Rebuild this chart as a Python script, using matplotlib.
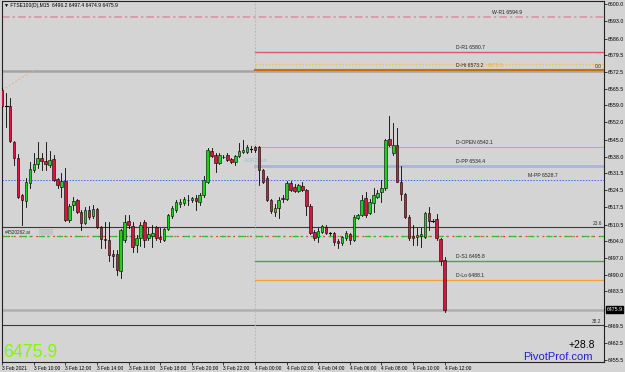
import matplotlib.pyplot as plt
import matplotlib.transforms as mtransforms
from matplotlib.patches import Rectangle

# M15 bars, 3 Feb 08:00 -> 4 Feb 12:00
opens = [6565.1, 6558.5, 6558.6, 6544.1, 6537.6, 6522.5, 6520.1, 6527.4, 6532.6, 6535.1,
         6537.5, 6536.3, 6534.7, 6537.1, 6529.0, 6525.7, 6528.2, 6512.3, 6518.4, 6520.5,
         6515.6, 6511.1, 6516.4, 6514.0, 6516.8, 6509.5, 6504.6, 6504.2, 6498.5, 6498.5,
         6491.7, 6504.2, 6511.9, 6509.9, 6502.2, 6505.0, 6511.5, 6505.0, 6505.9, 6509.5,
         6505.4, 6504.2, 6508.7, 6514.0, 6516.4, 6518.8, 6519.2, 6520.5, 6520.5, 6521.3,
         6519.7, 6522.5, 6527.8, 6540.3, 6538.7, 6535.5, 6537.9, 6538.7, 6537.1, 6535.9,
         6538.3, 6539.9, 6539.9, 6541.2, 6542.0, 6542.1, 6532.6, 6529.4, 6520.5, 6515.7,
         6517.3, 6521.3, 6520.9, 6527.4, 6525.7, 6524.2, 6526.1, 6524.5, 6518.1, 6507.5,
         6505.6, 6507.7, 6509.6, 6506.9, 6507.1, 6503.8, 6503.0, 6505.0, 6506.5, 6504.2,
         6513.1, 6514.4, 6521.5, 6515.3, 6519.1, 6521.8, 6523.6, 6525.3, 6545.1, 6539.4,
         6542.8, 6527.9, 6522.8, 6513.7, 6506.0, 6505.4, 6505.9, 6505.6, 6515.1, 6512.1,
         6512.7, 6504.6, 6496.2]
highs = [6565.9, 6563.8, 6561.9, 6544.4, 6539.1, 6522.9, 6529.4, 6535.9, 6539.5, 6544.0,
         6539.5, 6544.0, 6540.3, 6538.7, 6529.4, 6531.4, 6533.4, 6518.8, 6521.7, 6520.9,
         6516.4, 6517.6, 6518.0, 6518.4, 6517.2, 6509.9, 6511.5, 6511.5, 6500.2, 6500.2,
         6508.7, 6514.4, 6514.4, 6511.5, 6506.3, 6511.5, 6512.3, 6509.1, 6510.3, 6509.9,
         6509.1, 6509.1, 6514.8, 6518.0, 6520.5, 6520.9, 6521.7, 6522.5, 6521.8, 6522.5,
         6523.3, 6530.2, 6541.6, 6541.6, 6539.5, 6539.5, 6538.7, 6539.5, 6537.5, 6538.7,
         6543.6, 6544.8, 6542.8, 6542.4, 6542.4, 6542.4, 6533.0, 6530.2, 6520.9, 6518.8,
         6521.7, 6522.5, 6528.2, 6528.2, 6527.0, 6527.0, 6527.9, 6524.9, 6518.8, 6508.3,
         6509.1, 6510.3, 6510.3, 6507.5, 6507.5, 6504.6, 6505.9, 6507.9, 6507.1, 6514.4,
         6514.8, 6522.5, 6523.7, 6520.9, 6525.3, 6524.5, 6528.6, 6545.2, 6554.8, 6551.7,
         6549.7, 6534.3, 6523.3, 6514.4, 6510.3, 6509.1, 6509.1, 6515.6, 6517.6, 6512.7,
         6514.8, 6505.0, 6497.4]
lows = [6558.3, 6550.2, 6544.0, 6534.7, 6521.3, 6510.3, 6517.6, 6525.3, 6531.8, 6533.4,
        6532.6, 6532.6, 6533.9, 6528.2, 6525.3, 6521.7, 6511.9, 6511.5, 6516.4, 6515.2,
        6508.3, 6510.7, 6512.7, 6513.1, 6509.1, 6501.0, 6501.0, 6495.7, 6493.3, 6490.0,
        6488.8, 6503.4, 6509.1, 6499.4, 6499.4, 6501.8, 6501.4, 6504.2, 6501.4, 6504.2,
        6503.4, 6503.8, 6508.3, 6513.1, 6515.6, 6517.6, 6518.4, 6518.4, 6519.7, 6516.4,
        6518.4, 6521.7, 6527.4, 6537.9, 6531.8, 6535.1, 6537.5, 6536.3, 6535.5, 6534.7,
        6537.9, 6539.5, 6539.5, 6539.9, 6539.9, 6526.6, 6527.4, 6520.1, 6515.2, 6514.0,
        6513.1, 6519.7, 6520.5, 6524.1, 6523.7, 6523.7, 6524.1, 6514.4, 6506.7, 6504.2,
        6503.4, 6507.1, 6506.7, 6506.3, 6502.2, 6501.0, 6502.2, 6504.2, 6502.6, 6503.8,
        6512.7, 6514.0, 6513.5, 6514.8, 6515.6, 6521.3, 6519.7, 6524.5, 6542.4, 6538.7,
        6527.8, 6520.5, 6513.1, 6504.2, 6502.2, 6502.2, 6501.4, 6505.0, 6508.3, 6511.5,
        6504.2, 6494.0, 6474.9]
closes = [6558.7, 6558.5, 6544.4, 6537.5, 6521.8, 6520.5, 6527.8, 6533.0, 6535.1, 6537.5,
          6536.3, 6535.1, 6536.7, 6528.6, 6526.6, 6528.2, 6512.3, 6518.0, 6520.1, 6515.6,
          6511.1, 6516.4, 6513.5, 6516.8, 6509.5, 6504.6, 6504.4, 6498.1, 6497.7, 6492.1,
          6508.3, 6511.5, 6510.3, 6501.4, 6505.0, 6510.3, 6504.2, 6506.7, 6507.1, 6505.0,
          6504.6, 6508.7, 6514.4, 6517.2, 6519.7, 6519.7, 6520.9, 6520.7, 6521.3, 6520.1,
          6522.5, 6528.6, 6540.8, 6538.3, 6535.5, 6538.7, 6538.1, 6536.7, 6535.9, 6538.3,
          6540.3, 6540.8, 6542.0, 6541.2, 6540.8, 6532.6, 6527.9, 6520.5, 6516.1, 6517.3,
          6520.5, 6520.8, 6527.5, 6524.5, 6524.2, 6526.6, 6524.5, 6518.1, 6506.9, 6505.0,
          6508.0, 6509.9, 6507.1, 6506.9, 6503.4, 6503.0, 6505.4, 6507.1, 6504.2, 6513.7,
          6514.4, 6520.7, 6514.4, 6519.8, 6522.5, 6523.2, 6525.2, 6544.8, 6542.8, 6542.8,
          6527.9, 6522.8, 6513.7, 6505.2, 6504.9, 6506.3, 6506.7, 6515.1, 6512.1, 6512.1,
          6504.9, 6495.8, 6475.9]

time_labels = ['3 Feb 2021', '3 Feb 10:00', '3 Feb 12:00', '3 Feb 14:00', '3 Feb 16:00',
               '3 Feb 18:00', '3 Feb 20:00', '3 Feb 22:00', '4 Feb 00:00', '4 Feb 02:00',
               '4 Feb 04:00', '4 Feb 06:00', '4 Feb 08:00', '4 Feb 10:00', '4 Feb 12:00']
price_ticks = [6600.0, 6593.0, 6586.0, 6579.5, 6572.5, 6565.5, 6559.0, 6552.0, 6545.0,
               6538.0, 6531.5, 6524.5, 6517.5, 6510.5, 6504.0, 6497.0, 6490.0, 6483.5,
               6469.5, 6462.5, 6455.5]

# pivot levels drawn from the day start
day_names = ['D-R1', 'D-Hi', 'D-OPEN', 'D-PP', 'D-S1', 'D-Lo']
day_values = [6580.7, 6573.2, 6542.1, 6534.4, 6495.8, 6488.1]
adr_high = 6575.9
w_r1 = 6594.9
m_pp = 6528.7
fib_names = ['0.0', '23.6', '38.2']
fib_values = [6573.0, 6509.5, 6469.7]
fib_anchor_x = [0, 7.75]
fib_anchor_y = [6565.1, 6573.0]
box_level = 6505.9
last_price = 6475.9
change = '+28.8'
day_start = 64

bg = '#d4d4d4'
bull = '#19d219'
bear = '#dc143c'

plt.rcParams['font.family'] = ['Liberation Sans', 'DejaVu Sans']

fig = plt.figure(figsize=(6.25, 3.72), dpi=100, facecolor=bg)
ax = fig.add_axes([1.7 / 625, 10 / 372, 602.3 / 625, 360.7 / 372])
ax.set_facecolor(bg)
ax.set_xlim(-0.13, 152.35)
ax.set_ylim(6454.7, 6601.2)
xmax = 152.35

# horizontal levels
ax.axhline(w_r1, color='#d9909c', lw=1.1, dashes=(5, 2, 1.5, 2))
ax.axhline(fib_values[0], color='#a4a4a4', lw=1.8)
ax.axhline(m_pp, color='#4466ff', lw=0.7, ls=(0, (1.5, 1.5)))
ax.axhline(fib_values[1], color='#3a3a3a', lw=0.8)
ax.axhline(fib_values[2], color='#3a3a3a', lw=0.8)
ax.axhline(box_level, color='#e04040', lw=0.9, ls=(0, (1.5, 3)))
ax.axhline(box_level, color='#33bb33', lw=0.9, dashes=(5, 2, 1.5, 6))
ax.axhline(last_price, color='#b0b0b0', lw=1.8)
ax.axvline(day_start, color='#b8b8b8', lw=0.8, ls=(0, (1.5, 1.5)))

day_colors = ['#e05870', '#c87010', '#eca050', '#a8b4dc', '#5c985c', '#f0a040']
day_widths = [1.0, 1.5, 0.8, 2.0, 1.0, 0.9]
for name, val, c, w in zip(day_names, day_values, day_colors, day_widths):
    ax.plot([day_start, xmax], [val, val], color=c, lw=w)
    ax.text(114.9, val + 0.9, f'{name} {val:.1f}', fontsize=3.7, color='#222222',
            va='bottom', ha='left')
ax.plot([day_start, xmax], [adr_high, adr_high], color='#f0c060', lw=1.0, ls=(0, (1.2, 1.2)))
ax.text(122.8, day_values[1] + 0.9, f'{adr_high:.1f}', fontsize=3.7,
        color='#f0b030', va='bottom', ha='left')

ax.text(123.9, w_r1 + 0.9, f'W-R1 {w_r1:.1f}', fontsize=3.7, color='#222222', va='bottom')
ax.text(133.0, m_pp + 0.9, f'M-PP {m_pp:.1f}', fontsize=3.7, color='#222222', va='bottom')
for name, val in zip(fib_names, fib_values):
    ax.text(151.8, val + 0.6, name, fontsize=3.5, color='#333333', va='bottom', ha='right')
ax.plot(fib_anchor_x, fib_anchor_y, color='#f4a888', lw=0.7, ls=(0, (2, 2)))
ax.text(day_start, 6536.7, 'ADR Start', fontsize=3.7, color='#9ec0d0', ha='center', va='center')
ax.text(0.8, box_level + 0.4, '#4520262.ai', fontsize=3.3, color='#222222', va='bottom')
ax.add_patch(Rectangle((9.2, box_level + 0.3), 3.6, 2.6, color='#c4c4c4', lw=0))

# candles
for i in range(len(opens)):
    o, h, l, c = opens[i], highs[i], lows[i], closes[i]
    ax.plot([i, i], [l, h], color='black', lw=0.6, zorder=3)
    if abs(c - o) < 0.05:
        ax.plot([i - 0.35, i + 0.35], [o, o], color='black', lw=0.8, zorder=4)
    else:
        ax.add_patch(Rectangle((i - 0.32, min(o, c)), 0.64, abs(c - o),
                               facecolor=bull if c > o else bear, edgecolor='black',
                               lw=0.4, zorder=4))

# axes
for s in ax.spines.values():
    s.set_color('#222222')
    s.set_linewidth(0.8)
ax.yaxis.tick_right()
ax.set_yticks(price_ticks)
ax.set_yticklabels([f'{p:.1f}' for p in price_ticks])
ax.tick_params(axis='y', length=2, width=0.5, pad=1, labelsize=3.8)
ax.set_xticks(range(0, 8 * len(time_labels), 8))
ax.set_xticklabels(time_labels)
ax.tick_params(axis='x', length=2, width=0.5, pad=1, labelsize=3.5)
for lab in ax.get_xticklabels():
    lab.set_ha('left')

trans = mtransforms.blended_transform_factory(ax.transAxes, ax.transData)
ax.text(1.004, last_price, f'{last_price:.1f}', transform=trans, fontsize=3.8, color='white',
        va='center', ha='left', bbox=dict(facecolor='black', edgecolor='black', pad=0.6),
        clip_on=False)

ax.text(0.004, 0.995, '\u25bc FTSE100(D),M15  6496.2 6497.4 6474.9 6475.9',
        transform=ax.transAxes, fontsize=3.6, va='top', ha='left')

fig.text(2.7 / 625, 1 - 357 / 372, f'{last_price:.1f}', fontsize=12.8, color='#7cfc00',
         va='baseline', ha='left')
fig.text(595 / 625, 1 - 347.5 / 372, change, fontsize=7.5, color='black',
         va='baseline', ha='right')
fig.text(593 / 625, 1 - 360 / 372, 'PivotProf.com', fontsize=8, color='#2020dd',
         va='baseline', ha='right')

fig.savefig('out.png', dpi=100, facecolor=bg)
